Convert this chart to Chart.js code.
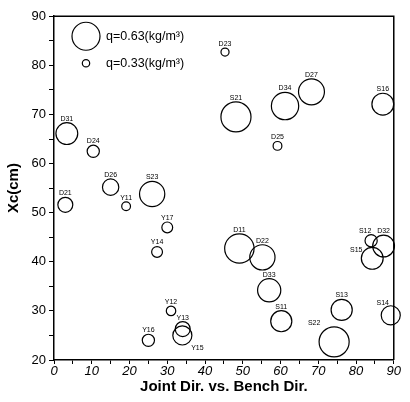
<!DOCTYPE html>
<html>
<head>
<meta charset="utf-8">
<script src="https://cdn.jsdelivr.net/npm/chart.js@4/dist/chart.umd.min.js"></script>
<style>
    html, body { margin: 0; padding: 0; background: #fff; }
    #wrap { width: 410px; height: 402px; }
</style>
</head>
<body>
<div id="wrap"><canvas id="xcChart" width="410" height="402"></canvas></div>
<script>
// blast holes: name, joint dir. vs bench dir. (deg), Xc (cm), charge q (kg/m3)
const holeNames = ['D31', 'D24', 'D26', 'S23', 'D21', 'Y11', 'Y17', 'Y14', 'Y12', 'Y13', 'Y15', 'Y16',
    'D23', 'S21', 'D34', 'D27', 'S16', 'D25', 'D11', 'D22', 'D33', 'S11', 'S13', 'S22', 'S12', 'D32', 'S15', 'S14'];
const jointDir = [3.4, 10.4, 15, 26, 3, 19.1, 30, 27.3, 31, 34.1, 34, 25,
    45.3, 48.2, 61.2, 68.2, 87.1, 59.2, 49.1, 55.2, 57, 60.2, 76.2, 74.2, 84, 87.3, 84.3, 89.2];
const xcValues = [66.1, 62.5, 55.2, 53.8, 51.6, 51.3, 47, 42, 30, 26.3, 25, 24,
    82.7, 69.5, 71.7, 74.6, 72.1, 63.6, 42.7, 40.9, 34.2, 27.9, 30.2, 23.7, 44.3, 43.2, 40.7, 29.1];
const chargeQ = [0.54, 0.40, 0.46, 0.59, 0.44, 0.35, 0.38, 0.38, 0.36, 0.44, 0.50, 0.40,
    0.34, 0.66, 0.62, 0.60, 0.54, 0.35, 0.65, 0.59, 0.56, 0.53, 0.53, 0.66, 0.40, 0.54, 0.54, 0.50];

const legendQ = [0.63, 0.33];
const xTicks = [0, 10, 20, 30, 40, 50, 60, 70, 80, 90];
const yTicks = [20, 30, 40, 50, 60, 70, 80, 90];

// bubble radius in px from charge, matched to the two legend circles
function radiusFor(q) {
    return 3.7 + (q - 0.33) / 0.30 * 10.3;
}

// a few labels sit off to the side instead of on top
const labelShift = {
    S22: [-20, -19],
    S15: [-16, -8],
    S14: [-8, -12],
    Y15: [15, 13],
    S12: [-6, -10]
};

let points = holeNames.map((n, i) => ({ x: jointDir[i], y: xcValues[i], r: radiusFor(chargeQ[i]) }));

const extras = {
    id: 'extras',
    afterDatasetsDraw(chart) {
        let ctx = chart.ctx;
        let area = chart.chartArea;
        ctx.save();

        // top + right frame
        ctx.strokeStyle = '#000';
        ctx.lineWidth = 1.5;
        ctx.beginPath();
        ctx.moveTo(area.left, area.top);
        ctx.lineTo(area.right, area.top);
        ctx.lineTo(area.right, area.bottom);
        ctx.stroke();

        // point labels
        let meta = chart.getDatasetMeta(0);
        ctx.fillStyle = '#000';
        ctx.font = '7px "Liberation Sans", Arial, sans-serif';
        ctx.textAlign = 'center';
        ctx.textBaseline = 'middle';
        meta.data.forEach((el, i) => {
            let name = holeNames[i];
            let r = points[i].r;
            let dx = 0, dy = -(r + 4);
            if (labelShift[name]) {
                dx = labelShift[name][0];
                dy = labelShift[name][1];
            }
            ctx.fillText(name, el.x + dx, el.y + dy);
        });

        // legend inside the plot
        ctx.lineWidth = 1.2;
        ctx.font = '12.5px "Liberation Sans", Arial, sans-serif';
        ctx.textAlign = 'left';
        legendQ.forEach((q, i) => {
            let cx = area.left + 32;
            let cy = area.top + 20 + i * 27;
            ctx.beginPath();
            ctx.arc(cx, cy, radiusFor(q), 0, Math.PI * 2);
            ctx.stroke();
            ctx.fillText('q=' + q.toFixed(2) + '(kg/m\u00B3)', area.left + 52, cy);
        });
        ctx.restore();
    }
};

let ctx = document.getElementById('xcChart');
let myBubbleChart = new Chart(ctx, {
    type: 'bubble',
    data: {
        datasets: [{
            data: points,
            backgroundColor: 'rgba(0,0,0,0)',
            borderColor: '#000',
            borderWidth: 1.2,
            hoverBorderWidth: 1.2,
            clip: false
        }]
    },
    options: {
        responsive: false,
        animation: false,
        events: [],
        layout: { padding: { left: 0, top: 15, right: 9, bottom: 0 } },
        plugins: { legend: { display: false }, tooltip: { enabled: false } },
        scales: {
            x: {
                type: 'linear',
                min: xTicks[0],
                max: xTicks[xTicks.length - 1],
                afterFit: scale => { scale.height = 42; },
                border: { color: '#000', width: 1.5 },
                grid: { drawOnChartArea: false, tickLength: 4, tickColor: '#000', tickWidth: 1 },
                ticks: {
                    stepSize: 5,
                    padding: 0,
                    color: '#000',
                    maxRotation: 0,
                    font: { family: '"Liberation Sans", Arial, sans-serif', size: 13, style: 'italic' },
                    callback: v => xTicks.includes(v) ? String(v) : ''
                },
                title: {
                    display: true,
                    text: 'Joint Dir. vs. Bench Dir.',
                    color: '#000',
                    font: { family: '"Liberation Sans", Arial, sans-serif', size: 15, weight: 'bold' },
                    padding: { top: 0, bottom: 6 }
                }
            },
            y: {
                type: 'linear',
                min: yTicks[0],
                max: yTicks[yTicks.length - 1],
                afterFit: scale => { scale.width = 54; },
                border: { color: '#000', width: 1.5 },
                grid: { drawOnChartArea: false, tickLength: 5, tickColor: '#000', tickWidth: 1 },
                ticks: {
                    stepSize: 5,
                    padding: 3,
                    color: '#000',
                    font: { family: '"Liberation Sans", Arial, sans-serif', size: 13 },
                    callback: v => yTicks.includes(v) ? String(v) : ''
                },
                title: {
                    display: true,
                    text: 'Xc(cm)',
                    color: '#000',
                    font: { family: '"Liberation Sans", Arial, sans-serif', size: 15, weight: 'bold' },
                    padding: { top: 5, bottom: 0 }
                }
            }
        }
    },
    plugins: [extras]
});
</script>
</body>
</html>
